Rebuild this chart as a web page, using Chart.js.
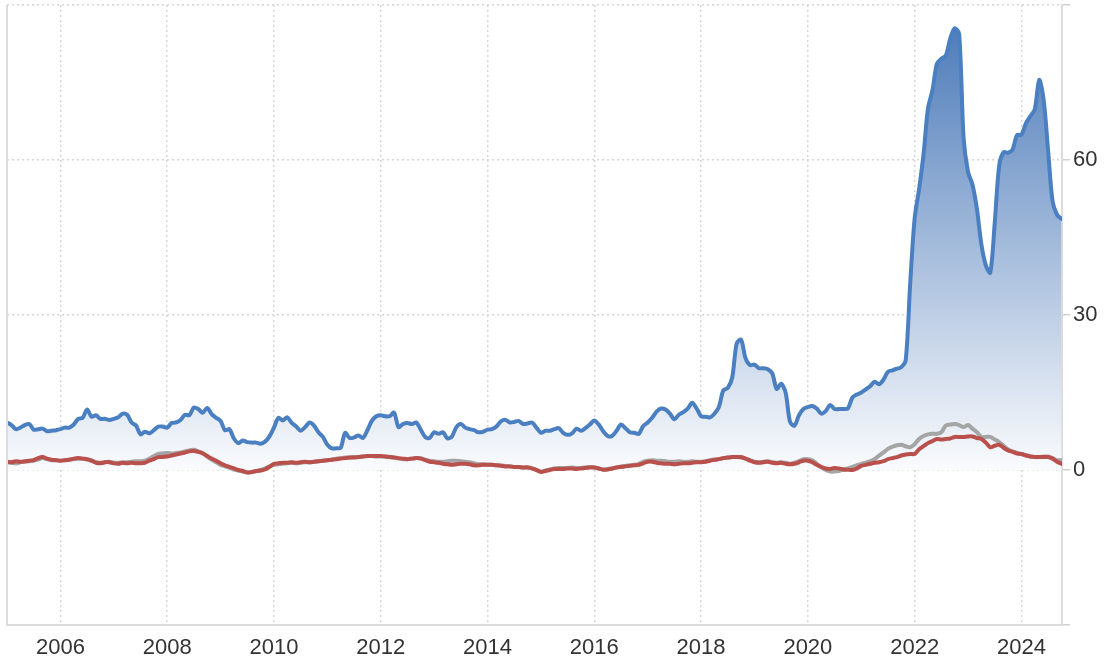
<!DOCTYPE html>
<html>
<head>
<meta charset="utf-8">
<script src="https://cdn.jsdelivr.net/npm/chart.js@4/dist/chart.umd.min.js"></script>
<style>
  html, body { margin: 0; padding: 0; background: #fff; }
  canvas { display: block; }
</style>
</head>
<body>
<canvas id="chart" width="1104" height="662"></canvas>
<script>
// monthly series, Jan 2005 .. Oct 2024
const startYear = 2005;
const xTicks = [2006, 2008, 2010, 2012, 2014, 2016, 2018, 2020, 2022, 2024];
const yTicks = [-30, 0, 30, 60, 90];
const yLabels = [0, 30, 60];

const blueSeries = [
  9.2, 8.7, 7.9, 8.2, 8.7, 8.9, 7.8, 7.9, 8.0, 7.5, 7.6, 7.7,
  7.9, 8.2, 8.2, 8.8, 9.9, 10.1, 11.7, 10.3, 10.6, 9.9, 9.9, 9.7,
  9.9, 10.2, 10.9, 10.7, 9.2, 8.6, 6.9, 7.4, 7.1, 7.7, 8.4, 8.4,
  8.2, 9.1, 9.2, 9.7, 10.7, 10.6, 12.1, 11.8, 11.1, 12.0, 10.8, 10.1,
  9.5, 7.7, 7.9, 6.1, 5.2, 5.7, 5.4, 5.3, 5.3, 5.1, 5.5, 6.5,
  8.2, 10.1, 9.6, 10.2, 9.1, 8.4, 7.6, 8.3, 9.2, 8.6, 7.3, 6.4,
  4.9, 4.2, 4.2, 4.3, 7.2, 6.2, 6.3, 6.7, 6.2, 7.7, 9.5, 10.4,
  10.6, 10.4, 10.4, 11.1, 8.3, 8.9, 9.1, 8.9, 9.2, 7.8, 6.4, 6.2,
  7.3, 7.0, 7.3, 6.1, 6.5, 8.3, 8.9, 8.2, 7.9, 7.7, 7.3, 7.4,
  7.8, 7.9, 8.4, 9.4, 9.7, 9.2, 9.3, 9.5, 8.9, 9.0, 9.2, 8.2,
  7.2, 7.6, 7.6, 7.9, 8.1, 7.2, 6.8, 7.1, 8.0, 7.6, 8.1, 8.8,
  9.6, 8.8, 7.5, 6.6, 6.6, 7.6, 8.8, 8.1, 7.3, 7.2, 7.0, 8.5,
  9.2, 10.1, 11.3, 11.9, 11.7, 10.9, 9.8, 10.7, 11.2, 11.9, 13.0, 11.9,
  10.4, 10.3, 10.2, 10.9, 12.2, 15.4, 15.9, 17.9, 24.5, 25.2, 21.6, 20.3,
  20.4, 19.7, 19.7, 19.5, 18.7, 15.7, 16.7, 15.0, 9.3, 8.6, 10.6, 11.8,
  12.2, 12.4, 11.9, 10.9, 11.4, 12.6, 11.8, 11.8, 11.8, 11.9, 14.0, 14.6,
  15.0, 15.6, 16.2, 17.1, 16.6, 17.5, 19.0, 19.3, 19.6, 19.9, 21.3, 36.1,
  48.7, 54.4, 61.1, 70.0, 73.5, 78.6, 79.6, 80.2, 83.5, 85.5, 84.4, 64.3,
  57.7, 55.2, 50.5, 43.7, 39.6, 38.2, 47.8, 58.9, 61.5, 61.4, 62.0, 64.8,
  64.9, 67.1, 68.5, 69.8, 75.5, 71.6, 61.8, 52.0, 49.4, 48.6
];

const graySeries = [
  1.5, 1.4, 1.3, 1.5, 1.6, 1.7, 1.8, 2.0, 2.3, 2.1, 1.9, 1.9,
  1.8, 1.9, 2.0, 2.1, 2.2, 2.2, 2.0, 1.8, 1.5, 1.4, 1.5, 1.6,
  1.4, 1.4, 1.5, 1.5, 1.6, 1.7, 1.7, 1.8, 2.2, 2.7, 3.1, 3.2,
  3.3, 3.2, 3.3, 3.4, 3.6, 3.8, 3.9, 3.6, 3.3, 2.6, 2.0, 1.5,
  1.0, 0.7, 0.4, 0.1, -0.1, -0.3, -0.5, -0.4, -0.2, 0.0, 0.3, 0.7,
  1.0, 1.1, 1.2, 1.3, 1.4, 1.3, 1.4, 1.5, 1.5, 1.6, 1.7, 1.8,
  1.9, 2.0, 2.2, 2.3, 2.4, 2.4, 2.5, 2.5, 2.6, 2.7, 2.7, 2.6,
  2.6, 2.6, 2.5, 2.4, 2.2, 2.1, 2.1, 2.2, 2.3, 2.3, 2.0, 1.8,
  1.7, 1.6, 1.6, 1.7, 1.8, 1.8, 1.7, 1.6, 1.5, 1.3, 1.1, 1.1,
  1.0, 1.0, 0.9, 0.9, 0.8, 0.7, 0.6, 0.6, 0.5, 0.5, 0.3, 0.0,
  -0.3, -0.1, 0.1, 0.3, 0.4, 0.4, 0.4, 0.5, 0.4, 0.4, 0.5, 0.6,
  0.5, 0.3, 0.1, 0.2, 0.3, 0.5, 0.7, 0.8, 0.9, 1.0, 1.2, 1.6,
  1.8, 1.9, 1.8, 1.8, 1.7, 1.6, 1.6, 1.7, 1.6, 1.6, 1.7, 1.6,
  1.6, 1.7, 1.9, 2.0, 2.1, 2.3, 2.4, 2.5, 2.5, 2.4, 2.2, 1.9,
  1.6, 1.5, 1.6, 1.7, 1.5, 1.4, 1.5, 1.4, 1.2, 1.4, 1.7, 2.1,
  2.1, 1.9, 1.2, 0.5, 0.0, -0.3, -0.3, -0.2, 0.1, 0.3, 0.6, 0.9,
  1.2, 1.4, 1.7, 2.1, 2.8, 3.4, 4.1, 4.5, 4.8, 4.9, 4.6, 4.4,
  5.0, 6.0, 6.6, 6.9, 7.0, 7.0, 7.3, 8.6, 8.8, 8.9, 8.7, 8.3,
  8.7, 8.0, 7.3, 6.4, 6.4, 6.4, 5.9, 5.4, 4.7, 4.0, 3.6, 3.3,
  3.1, 2.9, 2.6, 2.5, 2.5, 2.6, 2.6, 2.3, 1.9, 1.9
];

const redSeries = [
  1.6, 1.5, 1.7, 1.6, 1.7, 1.8, 1.9, 2.3, 2.5, 2.2, 2.0, 1.9,
  1.8, 1.9, 2.0, 2.2, 2.3, 2.2, 2.1, 1.8, 1.4, 1.3, 1.5, 1.5,
  1.3, 1.2, 1.4, 1.3, 1.4, 1.3, 1.3, 1.4, 1.8, 2.1, 2.5, 2.5,
  2.6, 2.8, 3.0, 3.2, 3.4, 3.6, 3.7, 3.5, 3.2, 2.7, 2.2, 1.8,
  1.3, 0.9, 0.6, 0.3, 0.0, -0.2, -0.5, -0.4, -0.2, -0.1, 0.1, 0.6,
  1.2, 1.3, 1.4, 1.4, 1.5, 1.4, 1.5, 1.6, 1.5, 1.6, 1.7, 1.8,
  1.9, 2.0, 2.1, 2.2, 2.3, 2.4, 2.4, 2.5, 2.6, 2.7, 2.7, 2.7,
  2.7, 2.6, 2.5, 2.4, 2.3, 2.2, 2.1, 2.2, 2.3, 2.2, 1.9, 1.6,
  1.5, 1.4, 1.2, 1.1, 1.0, 1.1, 1.2, 1.2, 1.1, 0.9, 0.9, 1.0,
  1.0, 1.0, 0.9, 0.8, 0.7, 0.7, 0.6, 0.6, 0.5, 0.5, 0.3, 0.0,
  -0.4, -0.2, 0.0, 0.2, 0.2, 0.2, 0.3, 0.3, 0.2, 0.3, 0.4, 0.5,
  0.5, 0.3, 0.05, 0.1, 0.3, 0.5, 0.6, 0.7, 0.8, 0.9, 1.0, 1.3,
  1.6, 1.6, 1.4, 1.3, 1.2, 1.2, 1.1, 1.2, 1.3, 1.3, 1.4, 1.5,
  1.5, 1.6, 1.8, 2.0, 2.1, 2.3, 2.4, 2.5, 2.5, 2.5, 2.2, 1.8,
  1.5, 1.4, 1.5, 1.6, 1.4, 1.3, 1.4, 1.2, 1.1, 1.2, 1.5, 1.8,
  1.8, 1.5, 1.0, 0.6, 0.3, 0.2, 0.4, 0.3, 0.1, 0.05, 0.0, 0.3,
  0.8, 1.0, 1.2, 1.4, 1.5, 1.7, 2.1, 2.3, 2.5, 2.8, 3.0, 3.1,
  3.1, 4.0, 4.6, 5.2, 5.6, 6.0, 5.9, 6.0, 6.1, 6.4, 6.4, 6.4,
  6.5, 6.5, 6.2, 6.0, 5.3, 4.4, 4.7, 4.9, 4.3, 3.8, 3.5, 3.2,
  3.1, 2.8, 2.6, 2.5, 2.5, 2.5, 2.5, 2.2, 1.6, 1.2
];

const toPoints = arr => arr.map((v, i) => ({ x: startYear + i / 12, y: v }));

const FONT = '"Liberation Sans", Arial, sans-serif';

// vertical gradient under the blue line, darkest at the top of the data
function blueFill(context) {
  const chart = context.chart;
  const area = chart.chartArea;
  if (!area) return 'rgba(74,125,190,0.5)';
  const ys = chart.scales.y;
  const top = ys.getPixelForValue(86);
  const zero = ys.getPixelForValue(0);
  const g = chart.ctx.createLinearGradient(0, top, 0, zero);
  g.addColorStop(0, 'rgb(78,124,186)');
  g.addColorStop(1, 'rgb(250,251,253)');
  return g;
}

// solid frame line on the left edge of the plot
const leftEdge = {
  id: 'leftEdge',
  afterDraw(chart) {
    const { ctx, chartArea } = chart;
    ctx.save();
    ctx.strokeStyle = '#dcdcdc';
    ctx.lineWidth = 2;
    ctx.beginPath();
    ctx.moveTo(chartArea.left, chartArea.top);
    ctx.lineTo(chartArea.left, chartArea.bottom);
    ctx.stroke();
    ctx.restore();
  }
};

new Chart(document.getElementById('chart'), {
  type: 'line',
  data: {
    datasets: [
      {
        label: 'red',
        data: toPoints(redSeries),
        borderColor: '#b9504c',
        borderWidth: 4,
        fill: false
      },
      {
        label: 'gray',
        data: toPoints(graySeries),
        borderColor: '#a5a5a5',
        borderWidth: 4,
        fill: false
      },
      {
        label: 'blue',
        data: toPoints(blueSeries),
        borderColor: '#4a7fc1',
        borderWidth: 4,
        fill: 'origin',
        backgroundColor: blueFill
      }
    ]
  },
  options: {
    responsive: false,
    animation: false,
    layout: { padding: { left: 7, top: 5, right: 0, bottom: 0 } },
    elements: {
      point: { radius: 0 },
      line: { tension: 0.3, borderJoinStyle: 'round', borderCapStyle: 'round' }
    },
    plugins: {
      legend: { display: false },
      tooltip: { enabled: false }
    },
    scales: {
      x: {
        type: 'linear',
        min: 2005,
        max: 2024.76,
        afterBuildTicks: s => { s.ticks = xTicks.map(v => ({ value: v })); },
        afterFit: s => { s.height = 37; s.paddingLeft = 0; s.paddingRight = 0; },
        ticks: {
          color: '#333',
          font: { family: FONT, size: 22 },
          padding: 10,
          maxRotation: 0,
          autoSkip: false,
          callback: v => String(v)
        },
        grid: {
          color: '#d6d6d6',
          lineWidth: 1.5,
          drawTicks: false
        },
        border: { display: true, color: '#dcdcdc', width: 2, dash: [2, 3] }
      },
      y: {
        position: 'right',
        min: -30,
        max: 90,
        afterBuildTicks: s => { s.ticks = yTicks.map(v => ({ value: v })); },
        afterFit: s => { s.width = 42; s.paddingTop = 0; s.paddingBottom = 0; },
        ticks: {
          color: '#333',
          font: { family: FONT, size: 22 },
          padding: 3,
          callback: v => (yLabels.includes(v) ? String(v) : '')
        },
        grid: {
          color: '#d6d6d6',
          lineWidth: 1.5,
          tickBorderDash: [],
          tickColor: '#d0d0d0',
          tickLength: 8
        },
        border: { display: true, color: '#dcdcdc', width: 2, dash: [2, 3] }
      }
    }
  },
  plugins: [leftEdge]
});
</script>
</body>
</html>
